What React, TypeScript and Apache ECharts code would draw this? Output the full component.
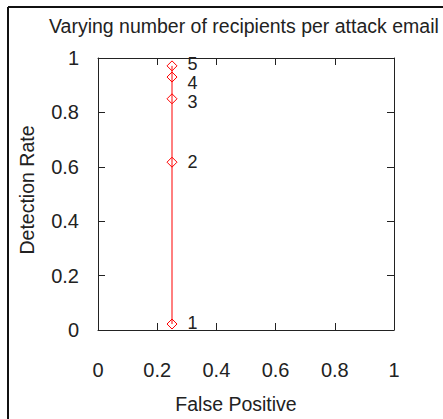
import { useEffect, useRef } from "react";
import * as echarts from "echarts";

const titleText = "Varying number of recipients per attack email";
const xAxisName = "False Positive";
const yAxisName = "Detection Rate";
const falsePositive = [0.25, 0.25, 0.25, 0.25, 0.25];
const detectionRate = [0.022, 0.617, 0.85, 0.93, 0.971];
const pointLabels = ["1", "2", "3", "4", "5"];
const labelOffsets = [[0, -1], [0, 0], [0, 3], [0, 6], [0, -2]];

const FONT = "'Liberation Sans', Arial, sans-serif";
const INK = "#222";

export default function App() {
  const ref = useRef<HTMLDivElement>(null);
  useEffect(() => {
    if (!ref.current) return;
    const chart = echarts.init(ref.current, undefined, { renderer: "svg" });
    const data = falsePositive.map((x, i) => ({
      value: [x, detectionRate[i]],
      label: {
        show: true,
        formatter: pointLabels[i],
        offset: labelOffsets[i],
      },
    }));
    const axisCommon = {
      min: 0,
      max: 1,
      interval: 0.2,
      splitLine: { show: false },
      axisLine: { show: true, onZero: false, lineStyle: { color: "#222", width: 1 } },
      axisTick: { show: true, inside: true, length: 7, lineStyle: { color: "#222" } },
    };
    chart.setOption({
      animation: false,
      backgroundColor: "#fff",
      textStyle: { fontFamily: FONT },
      title: {
        text: titleText,
        left: 44,
        top: 11,
        textStyle: { fontFamily: FONT, fontSize: 19.5, fontWeight: "normal", color: INK },
      },
      grid: { left: 98, top: 58, width: 296, height: 273, containLabel: false },
      xAxis: [
        {
          ...axisCommon,
          type: "value",
          position: "bottom",
          name: xAxisName,
          nameLocation: "middle",
          nameGap: 64,
          nameTextStyle: { fontFamily: FONT, fontSize: 19.5, color: INK, padding: [0, 20, 0, 0] },
          axisLabel: { margin: 30, fontFamily: FONT, fontSize: 20, color: INK },
        },
        {
          ...axisCommon,
          type: "value",
          position: "top",
          axisLabel: { show: false },
        },
      ],
      yAxis: [
        {
          ...axisCommon,
          type: "value",
          position: "left",
          name: yAxisName,
          nameLocation: "middle",
          nameGap: 61,
          nameTextStyle: { fontFamily: FONT, fontSize: 19.5, color: INK, padding: [0, 0, 0, 8] },
          axisLabel: { margin: 19, fontFamily: FONT, fontSize: 20, color: INK },
        },
        {
          ...axisCommon,
          type: "value",
          position: "right",
          axisLabel: { show: false },
        },
      ],
      series: [
        {
          type: "line",
          xAxisIndex: 0,
          yAxisIndex: 0,
          data,
          symbol: "diamond",
          symbolSize: 10,
          lineStyle: { color: "#ff0000", width: 1 },
          itemStyle: { color: "none", borderColor: "#ff0000", borderWidth: 1 },
          label: {
            show: true,
            position: "right",
            distance: 8,
            fontFamily: FONT,
            fontSize: 18,
            lineHeight: 16,
            color: INK,
          },
        },
      ],
      graphic: [
        { type: "line", shape: { x1: 8, y1: 7, x2: 443, y2: 7 }, style: { stroke: "#111", lineWidth: 2 } },
        { type: "line", shape: { x1: 8, y1: 7, x2: 8, y2: 419 }, style: { stroke: "#111", lineWidth: 2 } },
      ],
    });
    return () => chart.dispose();
  }, []);
  return (
    <div
      ref={ref}
      style={{ position: "absolute", left: 0, top: 0, width: 443, height: 419 }}
    />
  );
}
